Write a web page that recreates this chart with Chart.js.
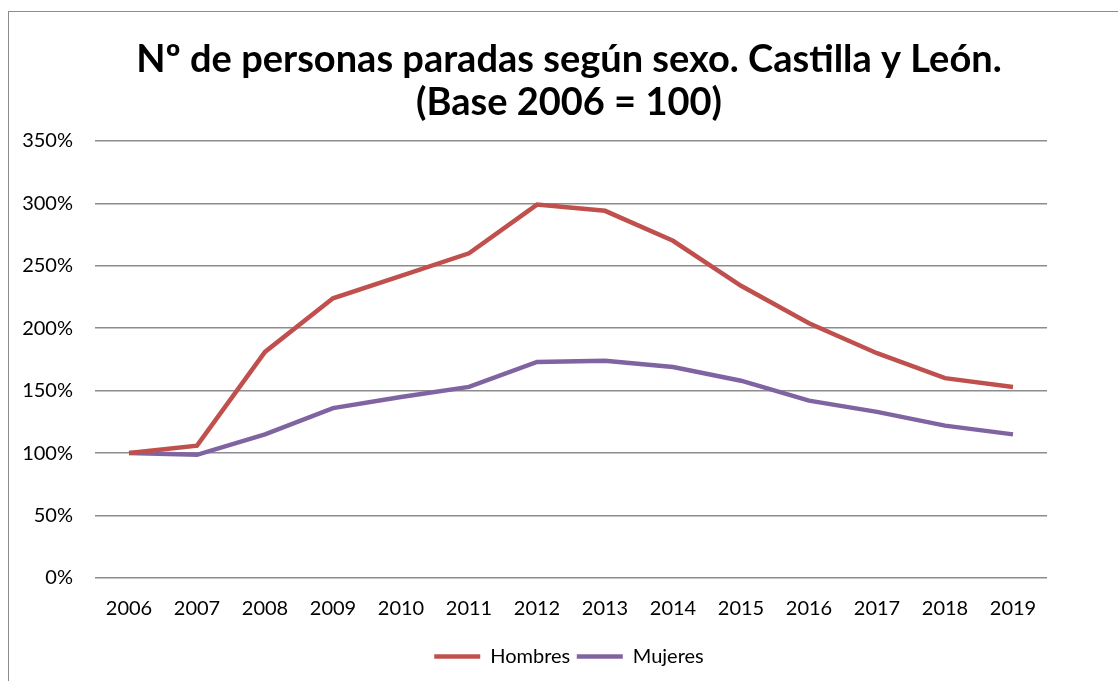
<!DOCTYPE html>
<html>
<head>
<meta charset="utf-8">
<script src="https://cdn.jsdelivr.net/npm/chart.js@4.4.0/dist/chart.umd.min.js"></script>
<style>
  html, body { margin: 0; padding: 0; background: #fff; }
  #wrap { position: relative; width: 1118px; height: 681px; overflow: hidden; }
  #frame { position: absolute; left: 8px; top: 11px; width: 1130px; height: 700px; border: 1px solid #8c8c8c; box-sizing: border-box; }
  canvas { position: absolute; left: 0; top: 0; }
</style>
</head>
<body>
<div id="wrap">
  <div id="frame"></div>
  <canvas id="chart" width="1118" height="681"></canvas>
</div>
<script>
// Índice de parados (2006 = 100)
const years = ['2006', '2007', '2008', '2009', '2010', '2011', '2012', '2013', '2014', '2015', '2016', '2017', '2018', '2019'];
const hombres = [100, 106, 181, 224, 242, 260, 299, 294, 270, 234, 204, 180, 160, 153];
const mujeres = [100, 98.6, 115, 136, 145, 153, 173, 174, 169, 158, 142, 133, 122, 115];
const titleLines = ['Nº de personas paradas según sexo. Castilla y León.', '(Base 2006 = 100)'];

const FONT = 'Lato, "Open Sans", sans-serif';

new Chart(document.getElementById('chart'), {
    type: 'line',
    data: {
        labels: years,
        datasets: [
            {
                label: 'Hombres',
                data: hombres,
                borderColor: '#C0504D',
                backgroundColor: '#C0504D',
                borderWidth: 4.5,
                pointRadius: 0,
                tension: 0
            },
            {
                label: 'Mujeres',
                data: mujeres,
                borderColor: '#8064A2',
                backgroundColor: '#8064A2',
                borderWidth: 4.5,
                pointRadius: 0,
                tension: 0
            }
        ]
    },
    options: {
        responsive: false,
        animation: false,
        layout: { padding: { left: 20, right: 0, top: 0, bottom: 4.5 } },
        plugins: {
            title: {
                display: true,
                text: titleLines,
                color: '#000',
                font: { family: FONT, size: 38, weight: 'bold', lineHeight: 1.13 },
                padding: { top: 38, bottom: 17 }
            },
            legend: {
                position: 'bottom',
                labels: {
                    usePointStyle: true,
                    pointStyle: 'line',
                    pointStyleWidth: 46,
                    color: '#000',
                    font: { family: FONT, size: 20 },
                    padding: 6.5
                }
            },
            tooltip: { enabled: false }
        },
        scales: {
            x: {
                offset: true,
                grid: { display: false, drawTicks: false },
                border: { display: false },
                ticks: { color: '#000', font: { family: FONT, size: 20 }, padding: 19, maxRotation: 0 }
            },
            y: {
                min: 0,
                max: 350,
                afterFit: s => { s.width = 75; },
                grid: { color: '#8c8c8c', lineWidth: 1.5, drawTicks: false },
                border: { display: false },
                ticks: {
                    stepSize: 50,
                    color: '#000',
                    font: { family: FONT, size: 20 },
                    padding: 22,
                    callback: v => v + '%'
                }
            },
            // eje vacío a la derecha: reserva el margen sin descentrar título ni leyenda
            margen: {
                position: 'right',
                grid: { display: false, drawTicks: false },
                border: { display: false },
                ticks: { display: false },
                afterFit: s => { s.width = 71; }
            }
        }
    }
});
</script>
</body>
</html>
